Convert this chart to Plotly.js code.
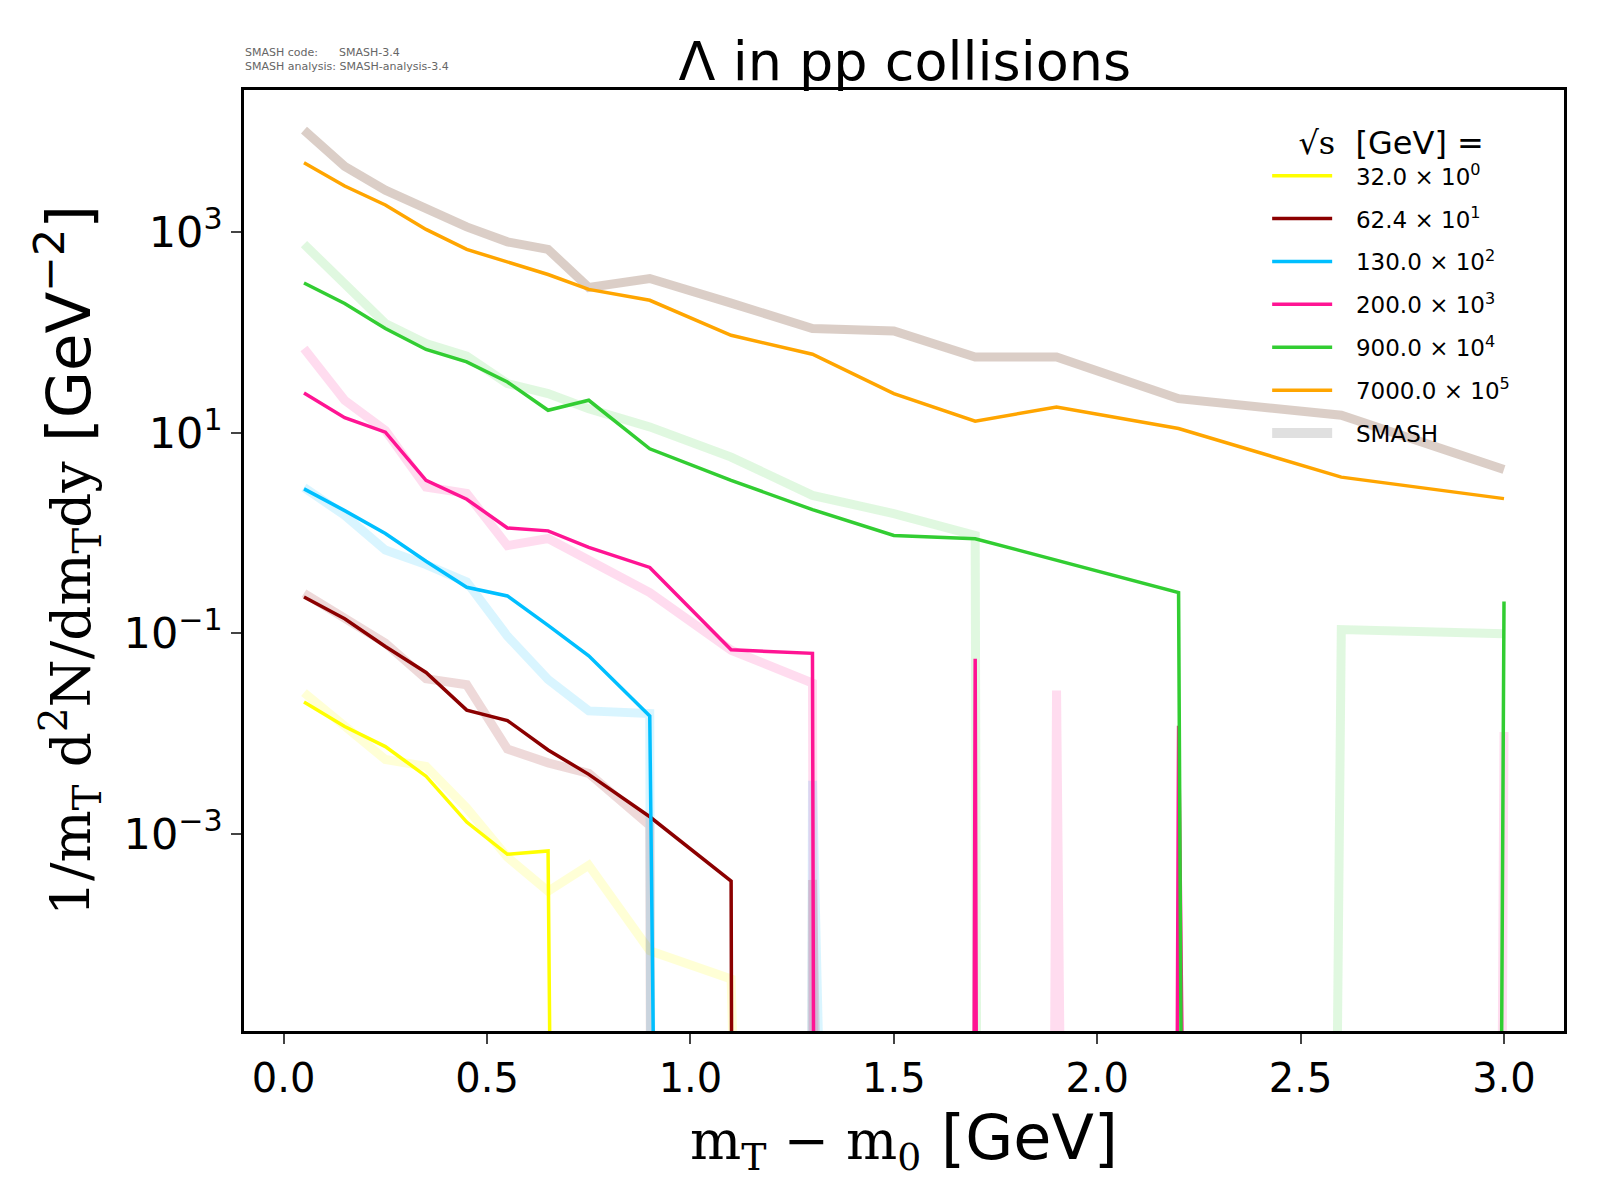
<!DOCTYPE html>
<html>
<head>
<meta charset="utf-8">
<script src="https://cdn.plot.ly/plotly-3.0.1.min.js"></script>
<style>
  html, body { margin: 0; padding: 0; background: #fff; }
  #chart { width: 1600px; height: 1200px; }
</style>
</head>
<body>
<div id="chart"></div>
<script>
// m_T - m_0 bin centres [GeV]
var mtBins = [0.05, 0.15, 0.25, 0.35, 0.45, 0.55, 0.65, 0.75, 0.9, 1.1, 1.3, 1.5, 1.7, 1.9, 2.2, 2.6, 3.0];

// energies and legend labels
var energyLabels = [
    "32.0 × 10<sup>0</sup>",
    "62.4 × 10<sup>1</sup>",
    "130.0 × 10<sup>2</sup>",
    "200.0 × 10<sup>3</sup>",
    "900.0 × 10<sup>4</sup>",
    "7000.0 × 10<sup>5</sup>"
];

// experimental data (already scaled by 10^n), 0 = empty bin
var data32   = [0.0207, 0.0118, 0.00745, 0.00378, 0.00132, 0.00063, 0.00068, 0, 0, 0, 0, 0, 0, 0, 0, 0, 0];
var data62   = [0.23, 0.14, 0.074, 0.0408, 0.0172, 0.01355, 0.00689, 0.00394, 0.00149, 0.00034, 0, 0, 0, 0, 0, 0, 0];
var data130  = [2.75, 1.67, 0.99, 0.524, 0.288, 0.236, 0.12, 0.0598, 0.015, 0, 0, 0, 0, 0, 0, 0, 0];
var data200  = [24.8, 14.1, 10.1, 3.34, 2.17, 1.12, 1.05, 0.72, 0.454, 0.0686, 0.0633, 0, 0.0559, 0, 0.012, 0, 0];
var data900  = [309, 193, 109, 67.3, 50.6, 31.9, 16.7, 21.0, 6.9, 3.34, 1.71, 0.946, 0.877, 0.533, 0.255, 0, 0.208];
var data7000 = [4870, 2860, 1850, 1057, 668, 501, 376, 267, 208, 93.3, 60.3, 24.5, 13.0, 18.0, 11.0, 3.6, 2.2];

// SMASH results, same scaling
var smash32   = [0.0257, 0.0118, 0.00555, 0.00473, 0.00182, 0.00059, 0.00027, 0.00049, 0.000069, 0.000036, 0, 0, 0, 0, 0, 0, 0];
var smash62   = [0.251, 0.14, 0.080, 0.0353, 0.0308, 0.00705, 0.00513, 0.00403, 0.00122, 0, 0.00035, 0, 0, 0, 0, 0, 0];
var smash130  = [2.84, 1.50, 0.676, 0.484, 0.325, 0.094, 0.0347, 0.0169, 0.0159, 0, 0.0034, 0, 0, 0, 0, 0, 0];
var smash200  = [68.7, 21, 10.5, 2.87, 2.48, 0.748, 0.88, 0.545, 0.255, 0.068, 0.032, 0, 0, 0.027, 0, 0, 0.0104];
var smash900  = [754, 309, 122, 77, 57.7, 30.8, 24.5, 17.3, 11.4, 5.7, 2.37, 1.56, 0.946, 0, 0, 0.109, 0.099];
var smash7000 = [10300, 4500, 2600, 1710, 1120, 795, 668, 279, 343, 195, 109, 103, 56.7, 56.7, 21.8, 14.9, 4.3];

var dataSets  = [data32, data62, data130, data200, data900, data7000];
var smashSets = [smash32, smash62, smash130, smash200, smash900, smash7000];

var dataColors  = ["#ffff00", "#8b0000", "#00bfff", "#ff1493", "#32cd32", "#ffa500"];
var smashColors = ["rgba(255,255,0,0.16)", "rgba(139,0,0,0.15)", "rgba(0,191,255,0.15)",
                   "rgba(255,20,147,0.15)", "rgba(50,205,50,0.15)", "rgba(110,60,30,0.25)"];

var xTicks = [0, 0.5, 1.0, 1.5, 2.0, 2.5, 3.0];
var yTicks = [1e-3, 1e-1, 1e1, 1e3];
var yTickText = ["10<sup>−3</sup>", "10<sup>−1</sup>", "10<sup>1</sup>", "10<sup>3</sup>"];

// empty bins on a log axis: push far below the frame (like matplotlib's clip)
function clipZero(arr) {
    return arr.map(function (v) { return v > 0 ? v : 1e-300; });
}

var traces = [];

// SMASH bands first, underneath
smashSets.forEach(function (s, i) {
    traces.push({
        x: mtBins,
        y: clipZero(s),
        type: "scatter",
        mode: "lines",
        line: { color: smashColors[i], width: 9 },
        showlegend: false,
        hoverinfo: "skip"
    });
});

var pad = "\u2002\u00a0";

dataSets.forEach(function (d, i) {
    traces.push({
        x: mtBins,
        y: clipZero(d),
        type: "scatter",
        mode: "lines",
        name: pad + energyLabels[i],
        legendgroup: "g" + i,
        line: { color: dataColors[i], width: 3.5 }
    });
});

// legend entry for SMASH
traces.push({
    x: [null],
    y: [null],
    type: "scatter",
    mode: "lines",
    name: pad + "SMASH",
    legendgroup: "smash",
    line: { color: "#e0e0e0", width: 10 }
});

var serif = "DejaVu Serif";

var layout = {
    width: 1600,
    height: 1200,
    paper_bgcolor: "#ffffff",
    plot_bgcolor: "#ffffff",
    font: { family: "DejaVu Sans", color: "#000" },
    margin: { l: 244, r: 36, t: 90, b: 169 },
    title: {
        text: "Λ in pp collisions",
        font: { size: 54 },
        x: 0.5655,
        xanchor: "center",
        y: 0.949,
        yanchor: "middle"
    },
    xaxis: {
        range: [-0.0975, 3.1475],
        tickvals: xTicks,
        tickformat: ".1f",
        ticks: "outside",
        ticklen: 10,
        tickwidth: 2,
        tickfont: { size: 40 },
        showline: true,
        mirror: true,
        linecolor: "#000",
        linewidth: 2.5,
        showgrid: false,
        zeroline: false,
        title: {
            text: "<span style='font-family:" + serif + ";font-size:54px'>m<sub>T</sub> − m<sub>0</sub></span> [GeV]",
            font: { size: 62 },
            standoff: 0
        }
    },
    yaxis: {
        type: "log",
        range: [-4.961, 4.413],
        tickvals: yTicks,
        ticktext: yTickText,
        ticks: "outside",
        ticklen: 10,
        tickwidth: 2,
        tickfont: { size: 43 },
        showline: true,
        mirror: true,
        linecolor: "#000",
        linewidth: 2.5,
        showgrid: false,
        zeroline: false,
        title: {
            text: "<span style='font-family:" + serif + ";font-size:55px'>1/m<sub>T</sub> d<sup>2</sup>N/dm<sub>T</sub>dy</span> [GeV<sup>−2</sup>]",
            font: { size: 61 },
            standoff: 14
        }
    },
    legend: {
        x: 0.963,
        xanchor: "right",
        y: 0.976,
        yanchor: "top",
        bgcolor: "rgba(0,0,0,0)",
        borderwidth: 0,
        font: { size: 23 },
        itemwidth: 60,
        traceorder: "grouped",
        tracegroupgap: 10,
        title: {
            text: "√<span style='font-family:" + serif + "'>s</span>  [GeV] =",
            side: "top center",
            font: { size: 32 }
        }
    },
    annotations: [
        {
            xref: "paper", yref: "paper",
            x: -0.001, y: 1.016,
            xanchor: "left", yanchor: "bottom",
            align: "left",
            showarrow: false,
            text: "SMASH code:      SMASH-3.4<br>SMASH analysis: SMASH-analysis-3.4",
            font: { size: 11, color: "#666" }
        }
    ]
};

var config = { responsive: false, displayModeBar: false };

Plotly.newPlot("chart", traces, layout, config);
</script>
</body>
</html>
